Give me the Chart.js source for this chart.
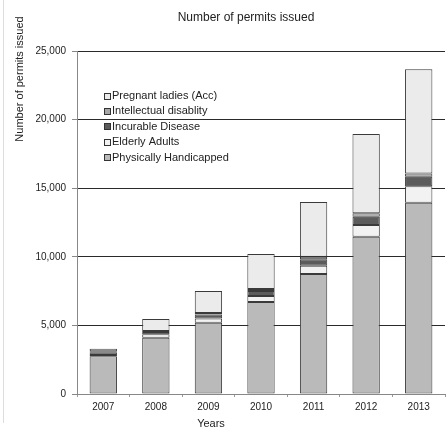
<!DOCTYPE html>
<html>
<head>
<meta charset="utf-8">
<script src="https://cdn.jsdelivr.net/npm/chart.js@4/dist/chart.umd.min.js"></script>
<style>
  html, body { margin: 0; padding: 0; background: #fff; }
  #wrap { position: relative; width: 446px; height: 427px; }
</style>
</head>
<body>
<div id="wrap"><canvas id="c" width="446" height="427"></canvas></div>
<script>
// Permits issued per year, by category
const years = ['2007', '2008', '2009', '2010', '2011', '2012', '2013'];
const physicallyHandicapped = [2750, 4100, 5200, 6700, 8750, 11470, 13940];
const elderlyAdults = [100, 250, 300, 450, 600, 850, 1200];
const incurableDisease = [200, 170, 300, 350, 470, 600, 700];
const intellectualDisability = [60, 70, 100, 150, 190, 250, 230];
const pregnantLadies = [190, 875, 1600, 2550, 3990, 5780, 7600];
const yTicks = [0, 5000, 10000, 15000, 20000, 25000];

const FONT = '"Liberation Sans", Arial, sans-serif';

// Greyscale fills, one per category (bottom of the stack first)
const series = [
  { label: 'Physically Handicapped', data: physicallyHandicapped, fill: '#bababa' },
  { label: 'Elderly Adults', data: elderlyAdults, fill: '#f2f2f2' },
  { label: 'Incurable Disease', data: incurableDisease, fill: '#5c5c5c' },
  { label: 'Intellectual disablity', data: intellectualDisability, fill: '#a6a6a6' },
  { label: 'Pregnant ladies (Acc)', data: pregnantLadies, fill: '#ebebeb' }
];

// Title, axis titles and the legend list
const annotations = {
  id: 'annotations',
  afterDraw(chart) {
    const c = chart.ctx;
    c.save();
    c.fillStyle = '#222';
    c.textBaseline = 'middle';
    c.font = '12px ' + FONT;
    c.textAlign = 'center';
    c.fillText('Number of permits issued', 246, 18);
    c.font = '11px ' + FONT;
    c.fillText('Years', 211, 424);
    c.save();
    c.translate(20, 79);
    c.rotate(-Math.PI / 2);
    c.fillText('Number of permits issued', 0, 0);
    c.restore();

    // legend, top entry = top of the stack
    c.textAlign = 'left';
    const items = series.slice().reverse();
    items.forEach((s, i) => {
      const y = 96 + i * 15.4;
      const bx = 104, by = Math.round(y - 3.5);
      c.fillStyle = s.fill;
      c.fillRect(bx, by, 7, 7);
      c.strokeStyle = '#333';
      c.lineWidth = 1;
      c.strokeRect(bx + 0.5, by + 0.5, 6, 6);
      c.fillStyle = '#222';
      c.fillText(s.label, 112, y);
    });

    // faint frame edge on the left
    c.strokeStyle = '#dddddd';
    c.beginPath();
    c.moveTo(3.5, 0);
    c.lineTo(3.5, 423);
    c.stroke();
    c.restore();
  }
};

new Chart(document.getElementById('c'), {
  type: 'bar',
  data: {
    labels: years,
    datasets: series.map(s => ({
      label: s.label,
      data: s.data,
      backgroundColor: s.fill,
      borderColor: '#3a3a3a',
      borderWidth: 1,
      borderSkipped: false,
      barPercentage: 0.52,
      categoryPercentage: 1.0
    }))
  },
  options: {
    responsive: false,
    animation: false,
    devicePixelRatio: 1,
    layout: { padding: { top: 51, right: 1, left: 0, bottom: 0 } },
    plugins: { legend: { display: false }, title: { display: false }, tooltip: { enabled: false } },
    scales: {
      x: {
        stacked: true,
        grid: { offset: true, drawOnChartArea: false, drawTicks: true, tickLength: 3, color: '#999' },
        border: { color: '#888', width: 1 },
        ticks: { color: '#222', font: { family: FONT, size: 10 }, padding: 4, maxRotation: 0 },
        afterFit(scale) { scale.height = 33; }
      },
      y: {
        stacked: true,
        min: 0,
        max: 25000,
        afterBuildTicks(scale) { scale.ticks = yTicks.map(v => ({ value: v })); },
        grid: {
          color: ctx => (ctx.tick && ctx.tick.value === 0) ? '#888' : '#2a2a2a',
          lineWidth: 1, tickLength: 5, tickColor: '#888'
        },
        border: { color: '#888', width: 1 },
        ticks: { color: '#222', font: { family: FONT, size: 10 }, padding: 6, callback: v => v.toLocaleString('en-US') },
        afterFit(scale) { scale.width = 77; }
      }
    }
  },
  plugins: [annotations]
});
</script>
</body>
</html>
